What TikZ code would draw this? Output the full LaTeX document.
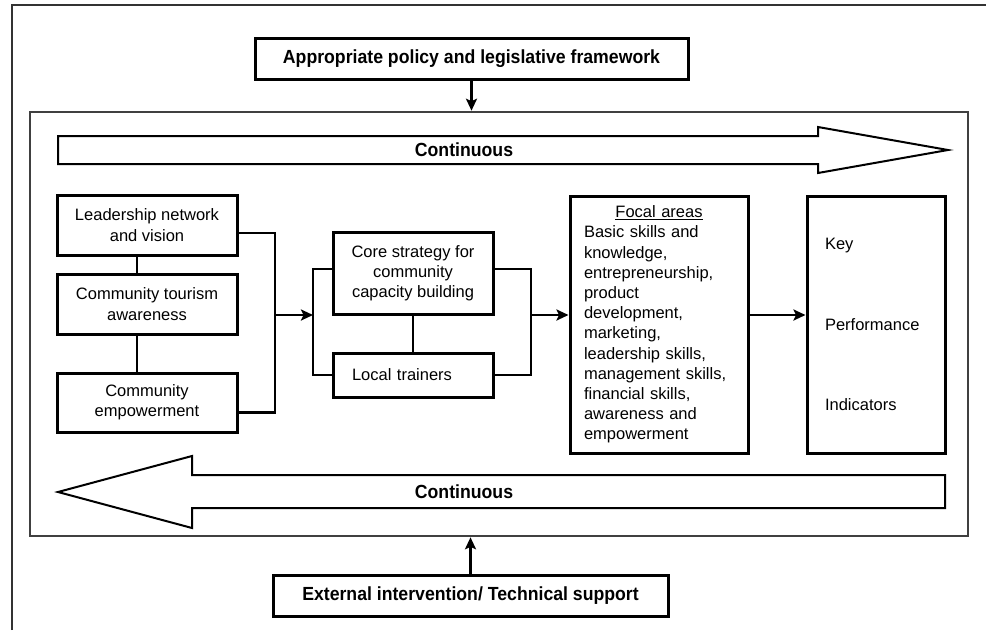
\documentclass[tikz,border=0pt]{standalone}
\usepackage{fontspec}
\setmainfont{Liberation Sans}
\newfontfamily\labelfont[FakeStretch=0.93]{Liberation Sans}
\usetikzlibrary{arrows.meta}

\begin{document}
\begin{tikzpicture}[x=1pt,y=-1pt,
    box/.style={draw,line width=3pt,inner sep=0pt},
    textbox/.style={box,font=\fontsize{16.5}{20.2}\selectfont,align=center},
    titlebox/.style={box,font=\labelfont\bfseries\fontsize{19}{22}\selectfont},
    flowlabel/.style={font=\labelfont\bfseries\fontsize{19}{22}\selectfont},
    link/.style={line width=2.5pt},
    flow/.style={link,-{Stealth[length=12pt,width=11pt,inset=2.5pt]}},
    hollow/.style={draw,line width=2pt,fill=white,line join=miter},
]
    \useasboundingbox (0,0) rectangle (986,630);
    \draw[line width=1.4pt,black!80] (12,630) -- (12,5) -- (986,5);

    % outside influences
    \node[titlebox,minimum width=433pt,minimum height=41pt] (policy) at (471.5,58.5) {Appropriate policy and legislative framework};
    \node[titlebox,minimum width=395pt,minimum height=41pt] (support) at (470.5,595.5) {External intervention/ Technical support};

    % the process frame
    \node[box,draw=black!75,line width=2.6pt,minimum width=938pt,minimum height=424pt] (frame) at (499,324) {};

    % continuous loops
    \draw[hollow] (58,136) -- (818,136) -- (818,127) -- (948,150) -- (818,173) -- (818,164) -- (58,164) -- cycle;
    \node[flowlabel] (forward) at (464,150) {Continuous};
    \draw[hollow] (945,475) -- (192,475) -- (192,456) -- (58,492) -- (192,528) -- (192,508) -- (945,508) -- cycle;
    \node[flowlabel] (backward) at (464,492) {Continuous};

    % community side
    \node[textbox,minimum width=180pt,minimum height=60pt] (lead) at (147,225) {Leadership network\\and vision};
    \node[textbox,minimum width=180pt,minimum height=60pt] (aware) at (147,304) {Community tourism\\awareness};
    \node[textbox,minimum width=180pt,minimum height=59pt] (empower) at (147,402.5) {Community\\empowerment};

    % capacity building
    \node[textbox,minimum width=160pt,minimum height=82pt] (core) at (413,273) {Core strategy for\\community\\capacity building};
    \node[textbox,minimum width=160pt,minimum height=44pt,text width=122pt,align=left] (local) at (413,375) {Local trainers};

    % outcomes
    \node[textbox,minimum width=178pt,minimum height=257pt,text width=150pt,align=left] (focal) at (659,324.5)
        {\makebox[150pt]{\underline{Focal areas}}\\Basic skills and\\knowledge,\\entrepreneurship,\\product\\development,\\marketing,\\leadership skills,\\management skills,\\financial skills,\\awareness and\\empowerment};
    \node[textbox,minimum width=138pt,minimum height=257pt,text width=102pt,align=left] (kpi) at (876,324.5)
        {Key\\[60pt]Performance\\[60pt]Indicators};

    \coordinate (join) at (275,315);
    \coordinate (split) at (313,315);
    \coordinate (merge) at (531,315);

    \draw[link] ([xshift=-10pt]lead.south) -- ([xshift=-10pt]aware.north);
    \draw[link] ([xshift=-10pt]aware.south) -- ([xshift=-10pt]empower.north);
    \draw[link] ([yshift=-8pt]lead.east) -| (join) |- ([yshift=-10pt]empower.east);
    \draw[flow] (join) -- (split);
    \draw[link] ([yshift=4pt]core.west) -| (split) |- (local.west);
    \draw[link] (core.south) -- (local.north);
    \draw[link] ([yshift=4pt]core.east) -| (merge) |- (local.east);
    \draw[flow] (merge) -- (focal.west |- merge);
    \draw[flow] (focal.east |- merge) -- (kpi.west |- merge);

    \draw[flow] (policy.south) -- (policy.south |- frame.north);
    \draw[flow] (support.north) -- (support.north |- frame.south);
\end{tikzpicture}
\end{document}
